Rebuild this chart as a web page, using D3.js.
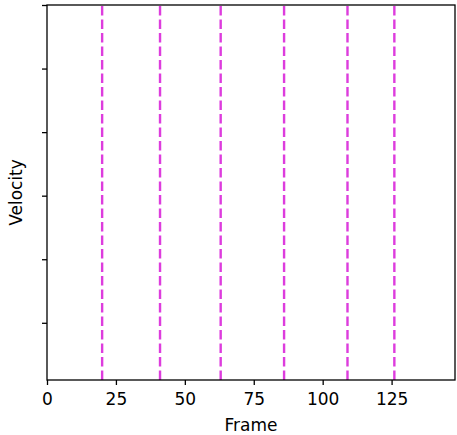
<!DOCTYPE html>
<html>
<head>
<meta charset="utf-8">
<script src="https://cdn.jsdelivr.net/npm/d3@7"></script>
<style>
  body { margin: 0; background: #fff; }
  text { font-family: "DejaVu Sans", sans-serif; fill: #000; }
</style>
</head>
<body>
<div id="chart"></div>
<script>
// data
var xTicks = [0, 25, 50, 75, 100, 125];
var yTicks = [0, 1, 2, 3, 4, 5];        // unlabelled ticks on the velocity axis
var eventFrames = [20, 41, 63, 86, 109, 126];
var xMax = 148;

var svgWidth = 457;
var svgHeight = 435;
var margin = {top: 5, right: 2, bottom: 55, left: 47};
var width = svgWidth - margin.left - margin.right;
var height = svgHeight - margin.top - margin.bottom;

var svg = d3.select("#chart")
  .append("svg")
  .attr("width", svgWidth)
  .attr("height", svgHeight);

svg.append("rect")
  .attr("width", svgWidth)
  .attr("height", svgHeight)
  .attr("fill", "#fff");

var chartGroup = svg.append("g")
  .attr("transform", "translate(" + margin.left + "," + margin.top + ")");

var xScale = d3.scaleLinear().domain([0, xMax]).range([0, width]);
var yScale = d3.scaleLinear().domain([-0.9, 5]).range([height, 0]);

// dashed vertical markers
chartGroup.selectAll(".vline")
  .data(eventFrames)
  .enter()
  .append("line")
  .attr("class", "vline")
  .attr("x1", d => xScale(d))
  .attr("x2", d => xScale(d))
  .attr("y1", height)
  .attr("y2", 0)
  .attr("stroke", "#dd3cdd")
  .attr("stroke-width", 2.4)
  .attr("stroke-dasharray", "9.4,4.1");

// axes
var bottomAxis = d3.axisBottom(xScale).tickValues(xTicks).tickSize(5).tickPadding(8);
var leftAxis = d3.axisLeft(yScale).tickValues(yTicks).tickSize(5).tickFormat("");

var xAxisG = chartGroup.append("g")
  .attr("transform", "translate(0," + height + ")")
  .call(bottomAxis);
var yAxisG = chartGroup.append("g").call(leftAxis);

[xAxisG, yAxisG].forEach(function(g) {
  g.select(".domain").remove();
  g.selectAll(".tick line").attr("stroke", "#000").attr("stroke-width", 1.3);
  g.selectAll(".tick text").attr("font-size", "17px").attr("font-family", "DejaVu Sans");
});

// frame box
chartGroup.append("rect")
  .attr("width", width)
  .attr("height", height)
  .attr("fill", "none")
  .attr("stroke", "#000")
  .attr("stroke-width", 1.3);

// axis labels
chartGroup.append("text")
  .attr("x", width / 2)
  .attr("y", height + 51)
  .attr("text-anchor", "middle")
  .attr("font-size", "17px")
  .text("Frame");

chartGroup.append("text")
  .attr("transform", "rotate(-90)")
  .attr("x", -height / 2)
  .attr("y", 22 - margin.left)
  .attr("text-anchor", "middle")
  .attr("font-size", "17px")
  .text("Velocity");
</script>
</body>
</html>
